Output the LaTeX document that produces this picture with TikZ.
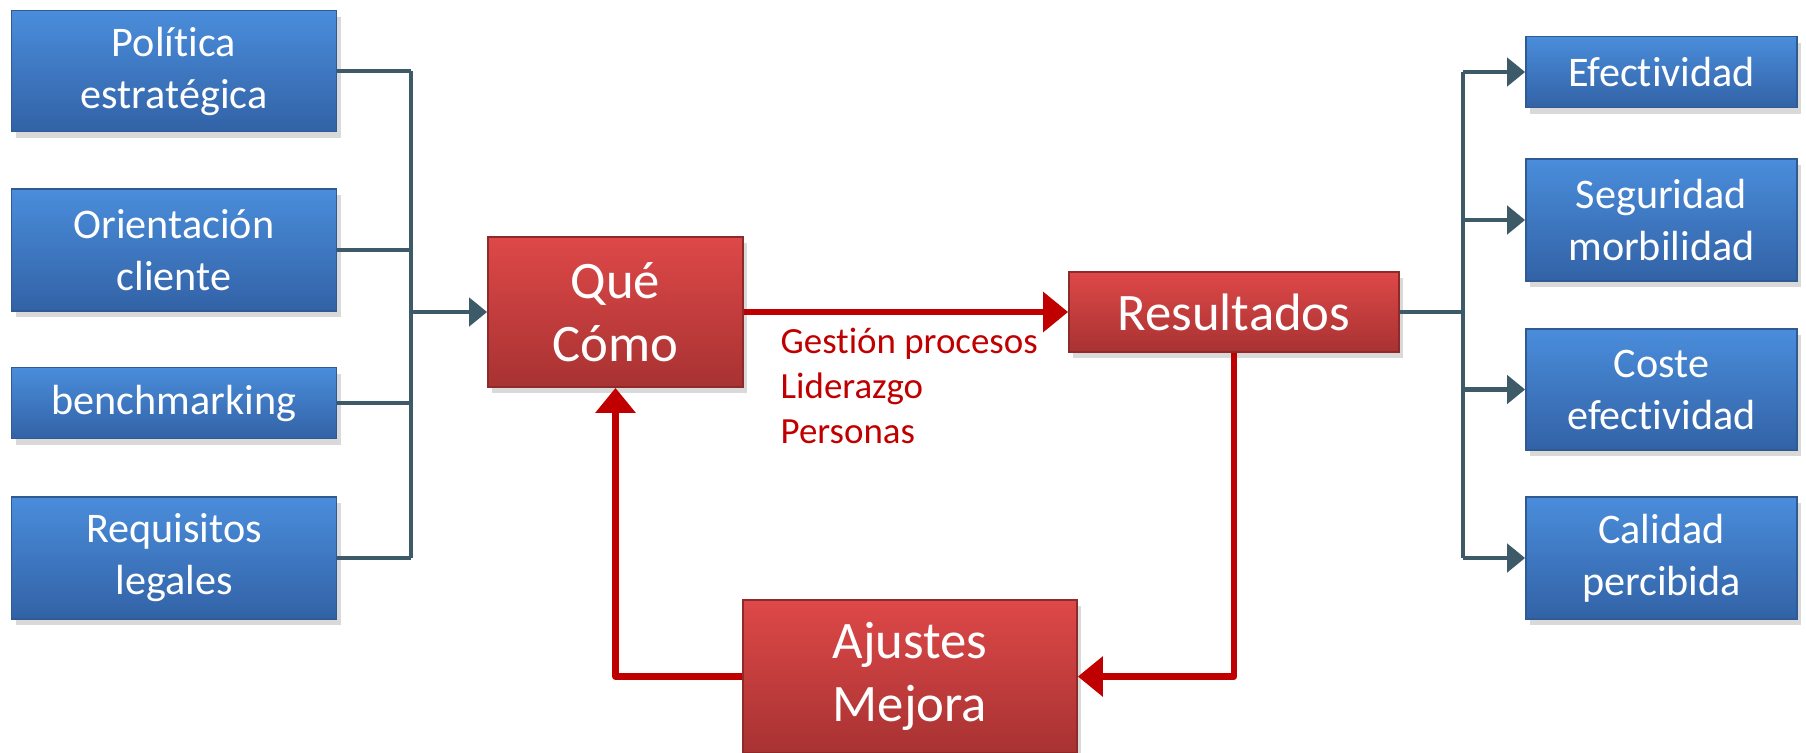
\documentclass[tikz,border=0pt]{standalone}
\usepackage{fontspec}
\setmainfont{Carlito}[Ligatures=NoCommon]
\usetikzlibrary{arrows.meta,shadows}
\definecolor{bluetop}{HTML}{4A8DDB}
\definecolor{bluebot}{HTML}{3262A6}
\definecolor{blueedge}{HTML}{2F5A92}
\definecolor{redtop}{HTML}{DE4848}
\definecolor{redbot}{HTML}{A83232}
\definecolor{rededge}{HTML}{8E2A2A}
\definecolor{slate}{HTML}{3D5A68}
\definecolor{darkred}{HTML}{C00000}

\begin{document}
\begin{tikzpicture}
  [bluebox/.style={rectangle,draw=blueedge,line width=0.5pt,top color=bluetop,bottom color=bluebot,
     text=white,align=center,inner sep=0pt,font=\fontsize{12}{14.8}\selectfont,
     drop shadow={opacity=0.3,shadow xshift=0.4mm,shadow yshift=-0.6mm}},
   redbox/.style={rectangle,draw=rededge,line width=0.5pt,top color=redtop,bottom color=redbot,
     text=white,align=center,inner sep=0pt,font=\fontsize{15}{17.9}\selectfont,
     drop shadow={opacity=0.3,shadow xshift=0.4mm,shadow yshift=-0.6mm}},
   conn/.style={draw=slate,line width=1.4pt,line join=round},
   redline/.style={draw=darkred,line width=1.9pt,line join=round,
     -{Triangle[length=2.5mm,width=3.9mm]}},
   >={Triangle[length=1.8mm,width=2.8mm]}]
  \useasboundingbox (0,0) rectangle (18.06,7.52);

  % inputs
  \node[bluebox,minimum width=3.25cm,minimum height=1.21cm] (pol) at (1.74,6.81) {Política\\estratégica};
  \node[bluebox,minimum width=3.25cm,minimum height=1.22cm] (ori) at (1.74,5.02)  {Orientación\\cliente};
  \node[bluebox,minimum width=3.25cm,minimum height=0.71cm] (ben) at (1.74,3.49)  {benchmarking};
  \node[bluebox,minimum width=3.25cm,minimum height=1.22cm] (req) at (1.74,1.94)  {Requisitos\\legales};

  % core loop
  \node[redbox,minimum width=2.55cm,minimum height=1.50cm] (que) at (6.155,4.40) {Qué\\Cómo};
  \node[redbox,minimum width=3.30cm,minimum height=0.80cm] (res) at (12.34,4.40) {Resultados};
  \node[redbox,minimum width=3.34cm,minimum height=1.53cm] (aju) at (9.10,0.755) {Ajustes\\Mejora};
  \node[anchor=north west,align=left,text=darkred,inner sep=0pt,
        font=\fontsize{10.5}{12.8}\selectfont] (lab) at (7.80,4.25) {Gestión procesos\\Liderazgo\\Personas};

  % outputs
  \node[bluebox,minimum width=2.71cm,minimum height=0.71cm] (efe) at (16.615,6.80) {Efectividad};
  \node[bluebox,minimum width=2.71cm,minimum height=1.22cm] (seg) at (16.615,5.32)  {Seguridad\\morbilidad};
  \node[bluebox,minimum width=2.71cm,minimum height=1.21cm] (cos) at (16.615,3.625) {Coste\\efectividad};
  \node[bluebox,minimum width=2.71cm,minimum height=1.22cm] (cal) at (16.615,1.94)  {Calidad\\percibida};

  \coordinate (busL) at (4.11,4.40);
  \coordinate (busR) at (14.63,4.40);

  \foreach \src in {pol,ori,ben,req}
    \draw[conn] (\src.east) -- (\src.east -| busL);
  \draw[conn] (pol.east -| busL) -- (req.east -| busL);
  \draw[conn,->] (que.west -| busL) -- (que.west);

  \draw[conn] (res.east) -- (res.east -| busR);
  \draw[conn] (efe.west -| busR) -- (cal.west -| busR);
  \foreach \dst in {efe,seg,cos,cal}
    \draw[conn,->] (\dst.west -| busR) -- (\dst.west);

  \draw[redline] (que.east) -- (res.west);
  \draw[redline] (res.south) |- (aju.east);
  \draw[redline] (aju.west) -| (que.south);

\end{tikzpicture}
\end{document}
